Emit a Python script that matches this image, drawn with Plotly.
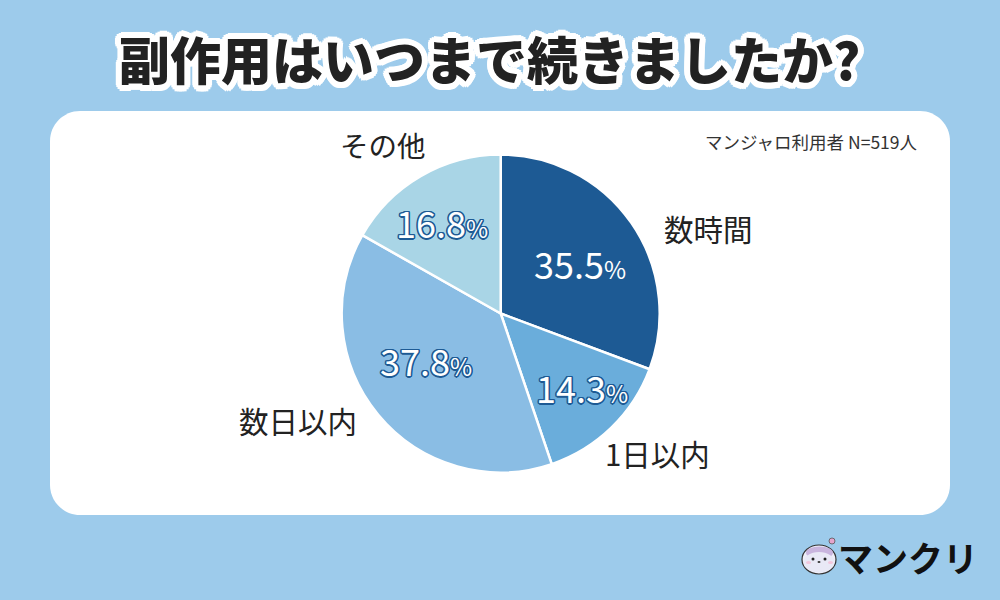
import math
import plotly.graph_objects as go

categories = ["数時間", "1日以内", "数日以内", "その他"]
# the printed percentages do not match the drawn wedges, so both are kept
shown_percent = ["35.5", "14.3", "37.8", "16.8"]
slice_sizes = [30.7, 14.1, 38.4, 16.8]
slice_colors = ["#1d5a94", "#6aaddb", "#8abde4", "#a9d5e6"]

title_text = "副作用はいつまで続きましたか?"
note_text = "マンジャロ利用者 N=519人"
brand_text = "マンクリ"

W, H = 1000, 600
FONT = "Noto Sans CJK JP"
BLUE = "#9dcbeb"


def px(x):
    return x / W


def py(y):
    return 1 - y / H


def outline(color, r, steps=16):
    parts = []
    for i in range(steps):
        a = 2 * math.pi * i / steps
        parts.append(f"{r * math.cos(a):.1f}px {r * math.sin(a):.1f}px 0 {color}")
    return ", ".join(parts)


def rounded_rect(x0, y0, x1, y1, r):
    k = r * 0.45
    pts = [
        f"M {px(x0 + r)} {py(y0)}", f"L {px(x1 - r)} {py(y0)}",
        f"C {px(x1 - k)} {py(y0)} {px(x1)} {py(y0 + k)} {px(x1)} {py(y0 + r)}",
        f"L {px(x1)} {py(y1 - r)}",
        f"C {px(x1)} {py(y1 - k)} {px(x1 - k)} {py(y1)} {px(x1 - r)} {py(y1)}",
        f"L {px(x0 + r)} {py(y1)}",
        f"C {px(x0 + k)} {py(y1)} {px(x0)} {py(y1 - k)} {px(x0)} {py(y1 - r)}",
        f"L {px(x0)} {py(y0 + r)}",
        f"C {px(x0)} {py(y0 + k)} {px(x0 + k)} {py(y0)} {px(x0 + r)} {py(y0)} Z",
    ]
    return " ".join(pts)


def ellipse(x0, y0, x1, y1, fill, line=None, lw=0):
    return dict(type="circle", xref="paper", yref="paper",
                x0=px(x0), x1=px(x1), y0=py(y1), y1=py(y0),
                fillcolor=fill, line=dict(color=line or fill, width=lw))


def label(text, x, y, size, color="#222222", shadow=None, weight=400):
    return dict(text=text, xref="paper", yref="paper", x=px(x), y=py(y),
                xanchor="center", yanchor="middle", showarrow=False,
                font=dict(family=FONT, size=size, color=color, weight=weight,
                          shadow=shadow or "none"))


cx, cy, radius = 500.7, 313.5, 159
fig = go.Figure(go.Pie(
    labels=categories,
    values=slice_sizes,
    sort=False,
    direction="clockwise",
    rotation=0,
    textinfo="none",
    hoverinfo="label",
    marker=dict(colors=slice_colors, line=dict(color="white", width=2.5)),
    domain=dict(x=[px(cx - radius), px(cx + radius)],
                y=[py(cy + radius), py(cy - radius)]),
    showlegend=False,
))

shapes = [
    dict(type="path", xref="paper", yref="paper", path=rounded_rect(50, 111, 950, 515, 30),
         fillcolor="white", line=dict(width=0), layer="below"),
    # logo mascot
    ellipse(802, 545, 836, 574, "#eeeef8", "#333333", 1.2),
    ellipse(806, 546.5, 833, 559, "#c9b5de"),
    ellipse(803.5, 552, 834.5, 572.5, "#e9e9f6"),
    ellipse(806, 561, 811, 564, "#f3c6dc"),
    ellipse(828, 561, 833, 564, "#f3c6dc"),
    ellipse(811.5, 557.5, 814.5, 560.5, "#222222"),
    ellipse(823.5, 557.5, 826.5, 560.5, "#222222"),
    ellipse(817.5, 561, 820.5, 563, "#333333"),
    ellipse(829, 538, 835, 544, "#e5a5cd", "#555555", 0.8),
]

annotations = [
    label(title_text, 489, 58, 51, "#222222", outline("white", 6), 900),
    label(note_text, 811.5, 141, 17.5, "#333333"),
    label(categories[0], 708, 228, 29.5),
    label(categories[1], 657, 453, 29.5),
    label(categories[2], 298, 419.5, 29.5),
    label(categories[3], 383, 144, 28.5),
]

value_pos = [(580, 263), (582, 387), (426, 360), (442, 222)]
for i, (value, (x, y)) in enumerate(zip(shown_percent, value_pos)):
    shadow = None if i == 0 else outline("#1d5a94", 1.5, 12)
    text = f"{value}<span style='font-size:24px'>%</span>"
    annotations.append(label(text, x, y, 36, "white", shadow, 400))

annotations.append(label(brand_text, 908, 556, 35, "#111111", None, 700))

fig.update_layout(
    width=W,
    height=H,
    margin=dict(l=0, r=0, t=0, b=0),
    paper_bgcolor=BLUE,
    plot_bgcolor=BLUE,
    shapes=shapes,
    annotations=annotations,
)

fig.write_html("out.html", config=dict(displayModeBar=False),
               post_script="document.body.style.margin='0';")
